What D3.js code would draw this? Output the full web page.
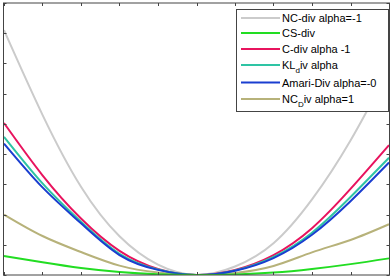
<!DOCTYPE html>
<html><head><meta charset="utf-8">
<script src="https://cdn.jsdelivr.net/npm/d3@7"></script>
<style>body{margin:0;background:#fff}svg{display:block}</style>
</head><body>
<svg id="c" width="392" height="280"></svg>
<script>
const xs = [-1, -0.8, -0.6, -0.4, -0.2, 0, 0.2, 0.4, 0.6, 0.8, 1];
const xTicks = [-1, -0.8, -0.6, -0.4, -0.2, 0, 0.2, 0.4, 0.6, 0.8, 1];
const yTicks = [0, 1, 2, 3, 4, 5, 6, 7, 8, 9];
const ncDivNeg = [8.1, 5.3, 2.92, 1.28, 0.34, 0, 0.28, 1.05, 2.5, 4.45, 6.8];
const csDiv    = [0.63, 0.42, 0.23, 0.1, 0.025, 0, 0.02, 0.08, 0.2, 0.36, 0.55];
const cDiv     = [5.03, 3.3, 1.87, 0.8, 0.2, 0, 0.17, 0.66, 1.55, 2.85, 4.3];
const klDiv    = [4.57, 3.03, 1.76, 0.7, 0.18, 0, 0.15, 0.6, 1.4, 2.58, 3.88];
const amariDiv = [4.35, 2.9, 1.71, 0.66, 0.17, 0, 0.14, 0.56, 1.33, 2.44, 3.72];
const ncDivPos = [2.0, 1.29, 0.76, 0.31, 0.08, 0, 0.07, 0.3, 0.75, 1.16, 1.68];

const series = [
  {name: "NC-div alpha=-1", values: ncDivNeg, color: "#cbcbcb"},
  {name: "CS-div", values: csDiv, color: "#22dd22"},
  {name: "C-div alpha -1", values: cDiv, color: "#e8145e"},
  {name: "KL", sub: "d", rest: "iv alpha", values: klDiv, color: "#2ec4a4"},
  {name: "Amari-Div alpha=-0", values: amariDiv, color: "#1a3ed0"},
  {name: "NC", sub: "D", rest: "iv alpha=1", values: ncDivPos, color: "#b7b27a"}
];
const drawOrder = [0, 5, 2, 3, 4, 1];

const svg = d3.select("#c");
const L = 3.5, R = 389.5, T = 3, B = 275;
const x = d3.scaleLinear().domain([-1, 1]).range([4, 389]);
const y = d3.scaleLinear().domain([0, 9]).range([B, 3]);

svg.append("clipPath").attr("id", "clp").append("rect")
  .attr("x", L).attr("y", T).attr("width", R - L).attr("height", B - T);

const line = d3.line().x((d, i) => x(xs[i])).y(d => y(d)).curve(d3.curveNatural);
const g = svg.append("g").attr("clip-path", "url(#clp)");
drawOrder.forEach(k => {
  const s = series[k];
  g.append("path").datum(s.values).attr("d", line)
    .attr("fill", "none").attr("stroke", s.color).attr("stroke-width", 2)
    .attr("stroke-linejoin", "round");
});

// frame
svg.append("rect").attr("x", L).attr("y", T).attr("width", R - L).attr("height", B - T)
  .attr("fill", "none").attr("stroke", "#444").attr("stroke-width", 1);

// ticks (inward, no labels)
const tl = 3;
const tk = svg.append("g").attr("stroke", "#444").attr("stroke-width", 1);
xTicks.forEach(t => {
  const px = Math.round(x(t)) + 0.5;
  tk.append("line").attr("x1", px).attr("x2", px).attr("y1", T).attr("y2", T + tl);
  tk.append("line").attr("x1", px).attr("x2", px).attr("y1", B).attr("y2", B - tl);
});
yTicks.forEach(t => {
  const py = Math.round(y(t)) + 0.5;
  tk.append("line").attr("y1", py).attr("y2", py).attr("x1", L).attr("x2", L + tl);
  tk.append("line").attr("y1", py).attr("y2", py).attr("x1", R).attr("x2", R - tl);
});

// legend
const lg = svg.append("g");
lg.append("rect").attr("x", 236.5).attr("y", 9.5).attr("width", 152).attr("height", 102)
  .attr("fill", "#fff").attr("stroke", "#444").attr("stroke-width", 1);
const rowY = [18, 33, 49, 65, 82.5, 99];
series.forEach((s, i) => {
  lg.append("line").attr("x1", 241).attr("x2", 280).attr("y1", rowY[i]).attr("y2", rowY[i])
    .attr("stroke", s.color).attr("stroke-width", 2);
  const t = lg.append("text").attr("x", 282).attr("y", rowY[i] + 4)
    .attr("font-family", "Liberation Sans, Arial, sans-serif").attr("font-size", 11)
    .attr("fill", "#000");
  if (s.sub) {
    t.append("tspan").text(s.name);
    t.append("tspan").attr("dy", 4).attr("font-size", 8).text(s.sub);
    t.append("tspan").attr("dy", -4).text(s.rest);
  } else {
    t.text(s.name);
  }
});
</script>
</body></html>
